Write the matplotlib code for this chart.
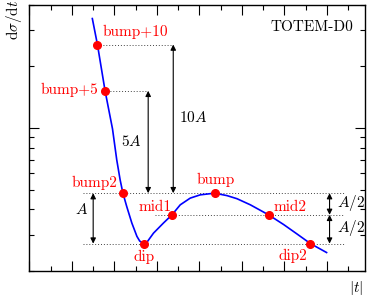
import matplotlib
matplotlib.use('Agg')
import matplotlib.pyplot as plt
from matplotlib.ticker import MultipleLocator, LogLocator, NullFormatter

plt.rcParams['font.family'] = 'cmr10'
plt.rcParams['mathtext.fontset'] = 'cm'
plt.rcParams['axes.unicode_minus'] = False

# curve (|t| in arbitrary units, dsigma/dt on log scale)
curve_t = [2.96, 3.20, 3.56, 3.91, 4.11, 4.27, 4.40, 4.58, 4.82, 5.06, 5.19, 5.37,
           5.54, 5.84, 6.31, 6.71, 7.10, 7.57, 8.04, 8.72, 9.30, 9.77, 10.40,
           11.26, 11.97, 12.60, 13.23, 13.99]
curve_y = [34.3, 25.6, 15.2, 9.9, 6.98, 5.57, 4.80, 4.13, 3.43, 2.95, 2.80, 2.72,
           2.77, 3.06, 3.43, 3.76, 4.21, 4.54, 4.71, 4.80, 4.67, 4.51, 4.21,
           3.76, 3.37, 3.03, 2.72, 2.46]

# characteristic points
point_names = ['bump+10', 'bump+5', 'bump2', 'dip', 'mid1', 'bump', 'mid2', 'dip2']
point_t = [3.20, 3.56, 4.40, 5.37, 6.71, 8.72, 11.26, 13.23]
dip = 2.72
bump = 4.80
A = bump - dip
point_y = [bump + 10 * A, bump + 5 * A, bump, dip, dip + A / 2, bump, dip + A / 2, dip]

fig = plt.figure(figsize=(3.73, 3.01), dpi=100)
ax = fig.add_axes([0.079, 0.1, 0.8996, 0.8837])

ax.plot(curve_t, curve_y, color='#0000ff', lw=1.2, zorder=3)
ax.plot(point_t, point_y, 'o', color='#ff0000', ms=5.5, zorder=4)

# dotted guide lines
dot = dict(color='#444444', ls=(0, (1, 2)), lw=0.7, zorder=1)
ax.plot([3.30, 6.77], [point_y[0]] * 2, **dot)
ax.plot([3.66, 5.59], [point_y[1]] * 2, **dot)
ax.plot([2.52, 14.8], [bump] * 2, **dot)
ax.plot([5.92, 14.8], [dip + A / 2] * 2, **dot)
ax.plot([2.52, 14.8], [dip] * 2, **dot)

# arrows
arr = dict(arrowstyle='<|-|>', color='k', lw=0.8, mutation_scale=8,
           shrinkA=0, shrinkB=0)
ax.annotate('', xy=(5.59, point_y[1]), xytext=(5.59, bump), arrowprops=arr)
ax.annotate('', xy=(6.77, point_y[0]), xytext=(6.77, bump), arrowprops=arr)
ax.annotate('', xy=(3.0, bump), xytext=(3.0, dip), arrowprops=arr)
ax.annotate('', xy=(14.13, bump), xytext=(14.13, dip + A / 2), arrowprops=arr)
ax.annotate('', xy=(14.13, dip + A / 2), xytext=(14.13, dip), arrowprops=arr)

fs = 11
ax.text(4.79, 8.55, r'$5A$', fontsize=fs, ha='center', va='center')
ax.text(7.71, 11.2, r'$10A$', fontsize=fs, ha='center', va='center')
ax.text(2.43, 3.98, r'$A$', fontsize=fs, ha='center', va='center')
ax.text(15.12, 4.30, r'$A/2$', fontsize=fs, ha='center', va='center')
ax.text(15.12, 3.25, r'$A/2$', fontsize=fs, ha='center', va='center')

# red labels
red = '#ff0000'
ax.text(3.42, 29.4, 'bump+10', color=red, fontsize=fs, ha='left', va='center')
ax.text(3.23, 15.3, 'bump+5', color=red, fontsize=fs, ha='right', va='center')
ax.text(4.13, 5.39, 'bump2', color=red, fontsize=fs, ha='right', va='center')
ax.text(5.91, 4.12, 'mid1', color=red, fontsize=fs, ha='center', va='center')
ax.text(5.38, 2.35, 'dip', color=red, fontsize=fs, ha='center', va='center')
ax.text(8.75, 5.57, 'bump', color=red, fontsize=fs, ha='center', va='center')
ax.text(12.26, 4.12, 'mid2', color=red, fontsize=fs, ha='center', va='center')
ax.text(12.41, 2.38, 'dip2', color=red, fontsize=fs, ha='center', va='center')

ax.text(0.964, 0.917, 'TOTEM-D0', transform=ax.transAxes, fontsize=fs,
        ha='right', va='center')

ax.set_yscale('log')
ax.set_xlim(0, 15.8)
ax.set_ylim(2, 40)
ax.xaxis.set_major_locator(MultipleLocator(2))
ax.xaxis.set_minor_locator(MultipleLocator(1))
ax.yaxis.set_major_locator(LogLocator(base=10))
ax.yaxis.set_minor_locator(LogLocator(base=10, subs=range(2, 10)))
for axis in (ax.xaxis, ax.yaxis):
    axis.set_major_formatter(NullFormatter())
    axis.set_minor_formatter(NullFormatter())
ax.tick_params(which='both', direction='in', top=True, right=True, width=0.8)
ax.tick_params(which='major', length=7)
ax.tick_params(which='minor', length=3.6)
for s in ax.spines.values():
    s.set_linewidth(1.0)

fig.text(14 / 373, 1 - 20 / 301, r'$\mathrm{d}\sigma/\mathrm{d}t$', rotation=90,
         fontsize=fs, ha='center', va='center')
fig.text(356 / 373, 1 - 288 / 301, r'$|t|$', fontsize=fs, ha='center', va='center')

fig.savefig('out.png', dpi=100)
